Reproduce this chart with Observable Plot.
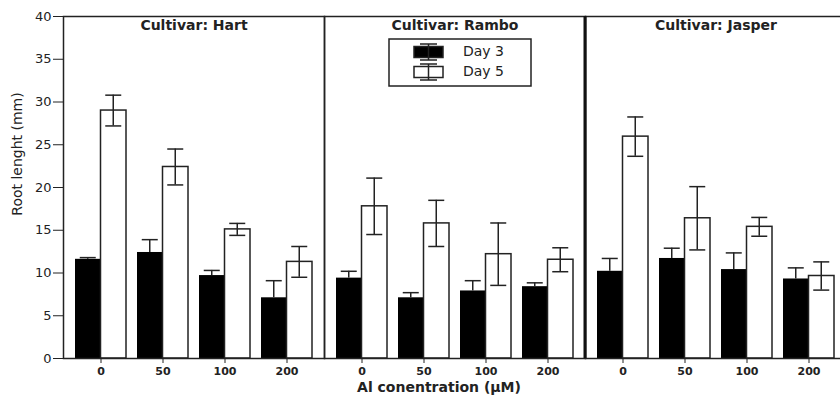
<!DOCTYPE html>
<html><head><meta charset="utf-8">
<script src="https://cdn.jsdelivr.net/npm/d3@7"></script>
<script src="https://cdn.jsdelivr.net/npm/@observablehq/plot@0.6"></script>
<style>
html,body{margin:0;padding:0;background:#fff;overflow:hidden;}
#chart svg{max-width:none !important;display:block;}
#chart svg [aria-label^="x-axis"] text{font-weight:bold;font-size:11px;}
</style></head><body><div id="chart"></div>
<script>
const cultivars = ["Hart", "Rambo", "Jasper"];
const concentrations = ["0", "50", "100", "200"];
const day3Mean = [11.6, 12.4, 9.7, 7.1, 9.4, 7.1, 7.9, 8.4, 10.2, 11.7, 10.4, 9.3];
const day3Err = [0.2, 1.5, 0.6, 2.0, 0.8, 0.6, 1.2, 0.45, 1.5, 1.2, 1.95, 1.3];
const day5Mean = [29.0, 22.4, 15.1, 11.3, 17.8, 15.8, 12.2, 11.55, 25.95, 16.4, 15.4, 9.65];
const day5Err = [1.8, 2.1, 0.7, 1.8, 3.3, 2.7, 3.65, 1.4, 2.3, 3.7, 1.1, 1.65];
const yTicks = [0, 5, 10, 15, 20, 25, 30, 35, 40];
const seriesNames = ["Day 3", "Day 5"];
const yTitle = "Root lenght (mm)";
const xTitle = "Al conentration (µM)";
const panelPrefix = "Cultivar: ";

const rows = cultivars.flatMap((c, i) => concentrations.map((k, j) => ({
  cultivar: c, conc: k,
  d3: day3Mean[i * 4 + j], e3: day3Err[i * 4 + j],
  d5: day5Mean[i * 4 + j], e5: day5Err[i * 4 + j]
})));

const INK = "#222";
function makePlot(bw) {
  const q = bw / 4, cap = 8, half = 0.75;
  return Plot.plot({
    width: 846, height: 396,
    marginTop: 16, marginBottom: 38, marginLeft: 63, marginRight: 0,
    style: {fontFamily: "DejaVu Sans", fontSize: "13px", color: INK, background: "#fff", maxWidth: "none"},
    facet: {data: rows, x: "cultivar"},
    fx: {domain: cultivars, padding: 0, axis: null, label: null},
    x: {domain: concentrations, paddingInner: 0.17, paddingOuter: 0.17, tickSize: 5, tickPadding: 4, label: null},
    y: {domain: [0, 40], ticks: yTicks, tickSize: 10, tickPadding: 2, label: null},
    marks: [
      Plot.barY(rows, {x: "conc", y1: 0, y2: "d3", fill: "#000", insetRight: bw / 2}),
      Plot.barY(rows, {x: "conc", y1: 0, y2: "d5", fill: "#fff", stroke: INK, strokeWidth: 1.5, insetLeft: bw / 2}),
      // Day 3 error bars (lower half is hidden by the solid bar)
      Plot.barY(rows, {x: "conc", y1: "d3", y2: d => d.d3 + d.e3, fill: INK, insetLeft: q - half, insetRight: 3 * q - half}),
      Plot.tickY(rows, {x: "conc", y: d => d.d3 + d.e3, stroke: INK, strokeWidth: 1.5, insetLeft: q - cap, insetRight: 3 * q - cap}),
      // Day 5 error bars
      Plot.barY(rows, {x: "conc", y1: d => d.d5 - d.e5, y2: d => d.d5 + d.e5, fill: INK, insetLeft: 3 * q - half, insetRight: q - half}),
      Plot.tickY(rows, {x: "conc", y: d => d.d5 + d.e5, stroke: INK, strokeWidth: 1.5, insetLeft: 3 * q - cap, insetRight: q - cap}),
      Plot.tickY(rows, {x: "conc", y: d => d.d5 - d.e5, stroke: INK, strokeWidth: 1.5, insetLeft: 3 * q - cap, insetRight: q - cap}),
      Plot.text(rows, Plot.selectFirst({text: d => panelPrefix + d.cultivar, frameAnchor: "top", dy: 4, fontWeight: "bold", fontSize: 14, fill: INK})),
      Plot.frame({stroke: INK, strokeWidth: 1.5})
    ]
  });
}

let bw = 52;
try {
  const probe = makePlot(bw);
  const sx = probe.scale("x");
  if (sx && sx.bandwidth) bw = sx.bandwidth;
} catch (e) {}
const svgNode = makePlot(bw);
document.getElementById("chart").appendChild(svgNode);

const svg = d3.select(svgNode);
// thicker divider before the last panel
try {
  const fx = svgNode.scale("fx");
  if (fx && fx.apply) {
    const xj = fx.apply(cultivars[2]);
    svg.append("line").attr("x1", xj).attr("x2", xj).attr("y1", 16).attr("y2", 358)
      .attr("stroke", "#111").attr("stroke-width", 3);
  }
} catch (e) {}
// axis titles
svg.append("text").attr("transform", "translate(18,154) rotate(-90)")
  .attr("text-anchor", "middle").attr("dominant-baseline", "middle")
  .attr("font-family", "DejaVu Sans").attr("font-size", 14).attr("fill", INK).text(yTitle);
svg.append("text").attr("x", 439).attr("y", 392)
  .attr("text-anchor", "middle").attr("font-family", "DejaVu Sans").attr("font-weight", "bold")
  .attr("font-size", 14).attr("fill", INK).text(xTitle);

// legend
const lg = svg.append("g").attr("stroke", INK).attr("stroke-width", 1.5);
lg.append("rect").attr("x", 389).attr("y", 39).attr("width", 142).attr("height", 47).attr("fill", "#fff");
[{y: 52, fill: "#000"}, {y: 72, fill: "#fff"}].forEach((s, i) => {
  lg.append("rect").attr("x", 414).attr("y", s.y - 5.5).attr("width", 29).attr("height", 11).attr("fill", s.fill);
  lg.append("line").attr("x1", 428.5).attr("x2", 428.5).attr("y1", s.y - 8).attr("y2", s.y + 8);
  lg.append("line").attr("x1", 420).attr("x2", 437).attr("y1", s.y - 8).attr("y2", s.y - 8);
  lg.append("line").attr("x1", 420).attr("x2", 437).attr("y1", s.y + 8).attr("y2", s.y + 8);
  svg.append("text").attr("x", 463).attr("y", s.y).attr("text-anchor", "start").attr("dominant-baseline", "middle")
    .attr("font-family", "DejaVu Sans").attr("font-size", 14).attr("fill", INK).text(seriesNames[i]);
});
</script></body></html>
